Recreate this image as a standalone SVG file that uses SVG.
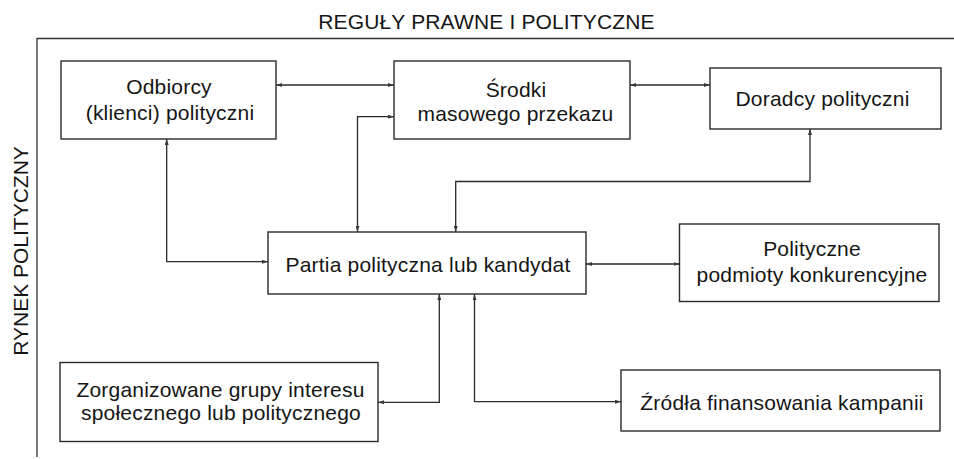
<svg xmlns="http://www.w3.org/2000/svg" width="954" height="459" viewBox="0 0 954 459">
  <style>
    .box { fill: #ffffff; stroke: #2a2a2a; stroke-width: 1.4; }
    .lbl { font-family: "Liberation Sans", Arial, sans-serif; font-size: 21px; letter-spacing: 0.2px; fill: #151515; text-anchor: middle; }
    .frame { fill: none; stroke: #333333; stroke-width: 1.3; }
    .conn { fill: none; stroke: #2a2a2a; stroke-width: 1.3; marker-start: url(#tip); marker-end: url(#tip); }
  </style>
  <defs>
    <marker id="tip" viewBox="0 0 6 4" refX="6" refY="2" markerWidth="6" markerHeight="4" markerUnits="userSpaceOnUse" orient="auto-start-reverse">
      <path d="M0,0 L6,2 L0,4 Z" fill="#3a3a3a"/>
    </marker>
  </defs>
  <rect width="954" height="459" fill="#ffffff"/>

  <!-- market frame -->
  <g id="frame">
    <path class="frame" d="M954,38.5 H37 V457"/>
    <text class="lbl" x="486.5" y="29" style="letter-spacing:0.15px">REGUŁY PRAWNE I POLITYCZNE</text>
    <text class="lbl" transform="translate(28,251) rotate(-90)" style="letter-spacing:0px">RYNEK POLITYCZNY</text>
  </g>

  <!-- connectors -->
  <g id="connectors">
    <path class="conn" d="M276,85 H394"/>
    <path class="conn" d="M630,85 H710"/>
    <path class="conn" d="M357.5,232 V116.7 H394"/>
    <path class="conn" d="M166.7,139 V261.7 H268"/>
    <path class="conn" d="M810,129 V181.5 H455.7 V232"/>
    <path class="conn" d="M586,264 H679.5"/>
    <path class="conn" d="M439.3,294 V402.3 H378"/>
    <path class="conn" d="M474.5,294 V401.7 H621"/>
  </g>

  <g id="odbiorcy">
    <rect class="box" x="61" y="61" width="215" height="78"/>
    <text class="lbl" x="169" y="94">Odbiorcy</text>
    <text class="lbl" x="170" y="120">(klienci) polityczni</text>
  </g>

  <g id="srodki">
    <rect class="box" x="394" y="61" width="236" height="78"/>
    <text class="lbl" x="516" y="96.5">Środki</text>
    <text class="lbl" x="515.5" y="120.5">masowego przekazu</text>
  </g>

  <g id="doradcy">
    <rect class="box" x="710" y="68" width="231" height="61"/>
    <text class="lbl" x="822.5" y="106">Doradcy polityczni</text>
  </g>

  <g id="partia">
    <rect class="box" x="268" y="232" width="318" height="62"/>
    <text class="lbl" x="428" y="271.5">Partia polityczna lub kandydat</text>
  </g>

  <g id="konkurencja">
    <rect class="box" x="679.5" y="224" width="259.5" height="77.5"/>
    <text class="lbl" x="812" y="255.5">Polityczne</text>
    <text class="lbl" x="812" y="281.5">podmioty konkurencyjne</text>
  </g>

  <g id="grupy">
    <rect class="box" x="60" y="362.5" width="318" height="79"/>
    <text class="lbl" x="220.5" y="396.5">Zorganizowane grupy interesu</text>
    <text class="lbl" x="221" y="419.5">społecznego lub politycznego</text>
  </g>

  <g id="finansowanie">
    <rect class="box" x="621" y="370" width="319" height="61"/>
    <text class="lbl" x="782" y="410">Źródła finansowania kampanii</text>
  </g>
</svg>
